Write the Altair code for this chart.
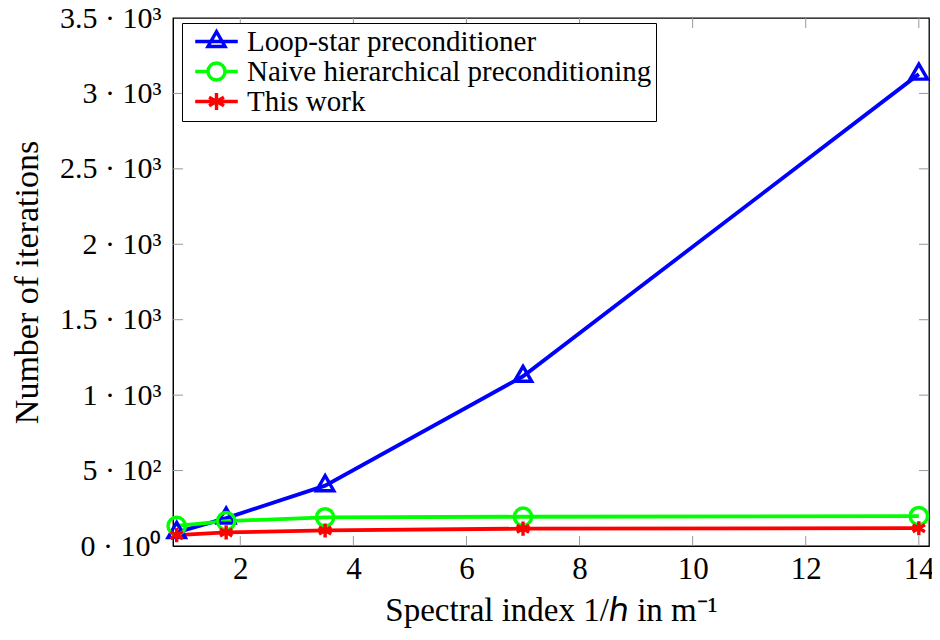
import altair as alt
import pandas as pd

# ---- data ----
x_vals = [0.875, 1.75, 3.5, 7, 14]
loop_star = [90, 185, 400, 1125, 3128]
naive = [133, 165, 190, 194, 198]
this_work = [72, 90, 103, 115, 118]

series_names = ["Loop-star preconditioner", "Naive hierarchical preconditioning", "This work"]
series_colors = ["#0000ff", "#00ff00", "#ff0000"]

x_ticks = [2, 4, 6, 8, 10, 12, 14]
y_ticks = [0, 500, 1000, 1500, 2000, 2500, 3000, 3500]
y_tick_labels = ["0 · 10⁰", "5 · 10²", "1 · 10³", "1.5 · 10³", "2 · 10³", "2.5 · 10³", "3 · 10³", "3.5 · 10³"]

x_title = "Spectral index 1/ℎ in m⁻¹"
y_title = "Number of iterations"

# ---- styling ----
W, H = 756, 528
FONT = "Liberation Serif"
x_domain = [0.81, 14.18]
y_domain = [0, 3500]

tri = "M0,-1.15L1.0,0.58L-1.0,0.58Z"
circ = "M-1,0A1,1 0 1,0 1,0A1,1 0 1,0 -1,0Z"
star = "M0,-1L0,1M-0.87,-0.5L0.87,0.5M-0.87,0.5L0.87,-0.5"
marker_paths = [tri, circ, star]
leg_paths = [
    "M-2.5,0L2.5,0" + tri,
    "M-2.5,0L-1,0M1,0L2.5,0" + circ,
    "M-2.5,0L2.5,0" + star,
]

rows = []
for name, vals in zip(series_names, [loop_star, naive, this_work]):
    for xv, yv in zip(x_vals, vals):
        rows.append({"x": xv, "y": yv, "series": name})
df = pd.DataFrame(rows)

xscale = alt.Scale(domain=x_domain, nice=False, zero=False)
yscale = alt.Scale(domain=y_domain, nice=False)
cscale = alt.Scale(domain=series_names, range=series_colors)

label_expr = " : ".join(
    f"datum.value == {v} ? '{l}'" for v, l in zip(y_ticks, y_tick_labels)
) + " : ''"

x_axis = alt.Axis(values=x_ticks, ticks=False, grid=False, labelFontSize=31,
                  labelFont=FONT, labelPadding=8, format="d", labelFlush=False,
                  title=x_title, titleFont=FONT,
                  titleFontSize=33, titleFontWeight="normal", titlePadding=10,
                  domainColor="black", labelColor="black", titleColor="black")
y_axis = alt.Axis(values=y_ticks, ticks=False, grid=False, labelFontSize=30,
                  labelFont=FONT, labelPadding=12, labelExpr=label_expr, labelFlush=False,
                  title=y_title, titleFont=FONT, titleFontSize=34,
                  titleFontWeight="normal", titlePadding=15,
                  domainColor="black", labelColor="black", titleColor="black")

leg = alt.Legend(
    orient="none", legendX=9, legendY=5, title=None,
    labelFont=FONT, labelFontSize=29, labelColor="black", labelLimit=600,
    symbolOffset=16, labelOffset=16, rowPadding=-6, padding=4,
    strokeColor="black", fillColor="white", cornerRadius=0,
    symbolStrokeWidth=3.4, symbolSize=290, symbolOpacity=1,
)

base = alt.Chart(df)

# inner tick marks (positions from the scales)
xt = pd.DataFrame({"x": x_ticks})
yt = pd.DataFrame({"y": y_ticks[1:-1]})
tick_style = dict(color="#999999", strokeWidth=1)
xt_bottom = alt.Chart(xt).mark_rule(**tick_style).encode(
    x=alt.X("x:Q", scale=xscale, axis=x_axis), y=alt.value(H - 10), y2=alt.value(H))
xt_top = alt.Chart(xt).mark_rule(**tick_style).encode(
    x=alt.X("x:Q", scale=xscale), y=alt.value(0), y2=alt.value(10))
yt_left = alt.Chart(yt).mark_rule(**tick_style).encode(
    y=alt.Y("y:Q", scale=yscale, axis=y_axis), x=alt.value(0), x2=alt.value(10))
yt_right = alt.Chart(yt).mark_rule(**tick_style).encode(
    y=alt.Y("y:Q", scale=yscale), x=alt.value(W - 10), x2=alt.value(W))

lines = base.mark_line(strokeWidth=3.8).encode(
    x=alt.X("x:Q", scale=xscale),
    y=alt.Y("y:Q", scale=yscale),
    color=alt.Color("series:N", scale=cscale, legend=leg),
    detail="series:N",
)

point_layers = []
for name, path in zip(series_names, marker_paths):
    point_layers.append(
        base.transform_filter(alt.datum.series == name).mark_point(
            filled=False, strokeWidth=3.4, size=300 if path != star else 200, shape=path, opacity=1
        ).encode(
            x=alt.X("x:Q", scale=xscale),
            y=alt.Y("y:Q", scale=yscale),
            color=alt.Color("series:N", scale=cscale, legend=leg),
        )
    )

legend_layer = base.transform_filter("false").mark_point(
    filled=False, strokeWidth=3.4, size=290, opacity=1
).encode(
    x=alt.X("x:Q", scale=xscale),
    y=alt.Y("y:Q", scale=yscale),
    color=alt.Color("series:N", scale=cscale, legend=leg),
    shape=alt.Shape("series:N", scale=alt.Scale(domain=series_names, range=leg_paths),
                    legend=leg),
)

chart = alt.layer(
    xt_bottom, xt_top, yt_left, yt_right, lines, *point_layers, legend_layer
).properties(
    width=W, height=H,
    autosize=alt.AutoSizeParams(type="none"),
    padding={"left": 165, "top": 10, "right": 3, "bottom": 90},
).configure(background="white", font=FONT).configure_view(stroke="black", strokeWidth=1.3)

chart.save("out.html", embed_options={"renderer": "svg", "actions": False})
